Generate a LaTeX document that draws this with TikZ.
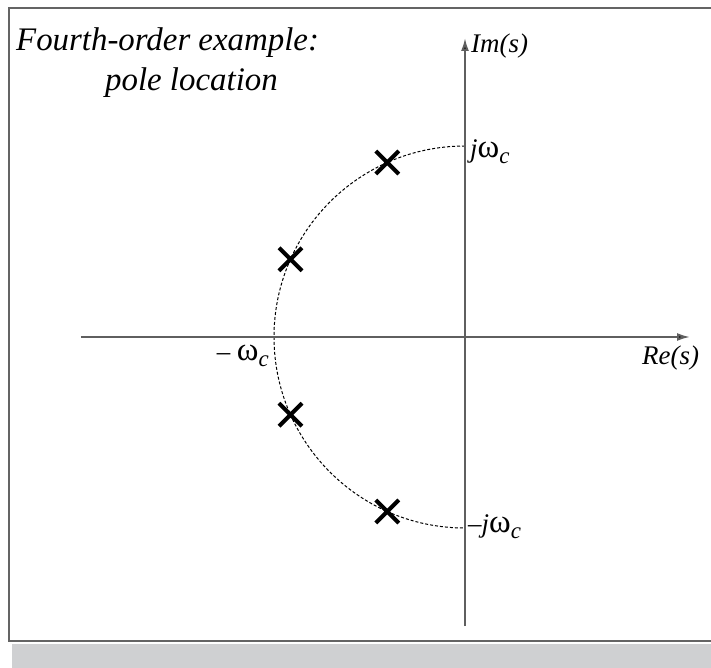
\documentclass[tikz,border=0pt]{standalone}
\usepackage{fontspec}
\setmainfont{Liberation Serif}
\usetikzlibrary{arrows.meta, positioning, shapes.misc}
\definecolor{axis_col}{RGB}{95, 95, 95}
\definecolor{frame_col}{RGB}{100, 100, 100}
\definecolor{strip_col}{RGB}{207, 208, 210}
\newcommand{\OMG}{{\upshape\fontsize{33}{33}\selectfont ω}}
\newcommand{\SUBC}{\raisebox{-6bp}{\fontsize{23}{23}\selectfont c}}

\begin{document}
\begin{tikzpicture}[
    x=1bp, y=1bp,
    every node/.style={font=\itshape\fontsize{27}{31}\selectfont, inner sep=0pt},
    axis/.style={line width=2bp, draw=axis_col, -{Latex[length=13bp, width=8bp, fill=black]}},
    pole/.style={cross out, draw=black, line width=4bp, minimum size=19bp},
    circ/.style={dash pattern=on 3bp off 2bp, line width=1bp},
]
  \useasboundingbox (-465,-331) rectangle (246,337);
  \fill[strip_col] (-453,-331) rectangle (246,-307);
  \draw[frame_col, line width=2bp] (246,329) -- (-456,329) -- (-456,-304) -- (246,-304);

  % axes
  \coordinate (O) at (0,0);
  \coordinate (xl) at (-384,0);
  \coordinate (xr) at (225,0);
  \coordinate (yb) at (0,-289);
  \coordinate (yt) at (0,299);
  \draw[circ] (0,191) arc[start angle=90, end angle=270, radius=191];
  \draw[axis] (xl) -- (xr);
  \draw[axis] (yb) -- (yt);

  % poles
  \foreach \a/\n in {114/1, 156/2, 204/3, 246/4}
    \node[pole] (p\n) at (\a:191) {};

  \node[anchor=west] (im) at (6,291) {Im(s)};
  \node[anchor=west] (re) at (177,-21) {Re(s)};
  \node[anchor=west] (jw) at (5,185) {j\OMG\SUBC};
  \node[anchor=west] (mjw) at (3,-190) {–j\OMG\SUBC};
  \node[anchor=east] (mw) at (-196,-19) {– \OMG\SUBC};

  \node[anchor=north west, align=left, font=\itshape\fontsize{33}{41}\selectfont] (title)
    at (-449,310) {Fourth-order example:\\\hspace*{89bp}pole location};
\end{tikzpicture}
\end{document}
